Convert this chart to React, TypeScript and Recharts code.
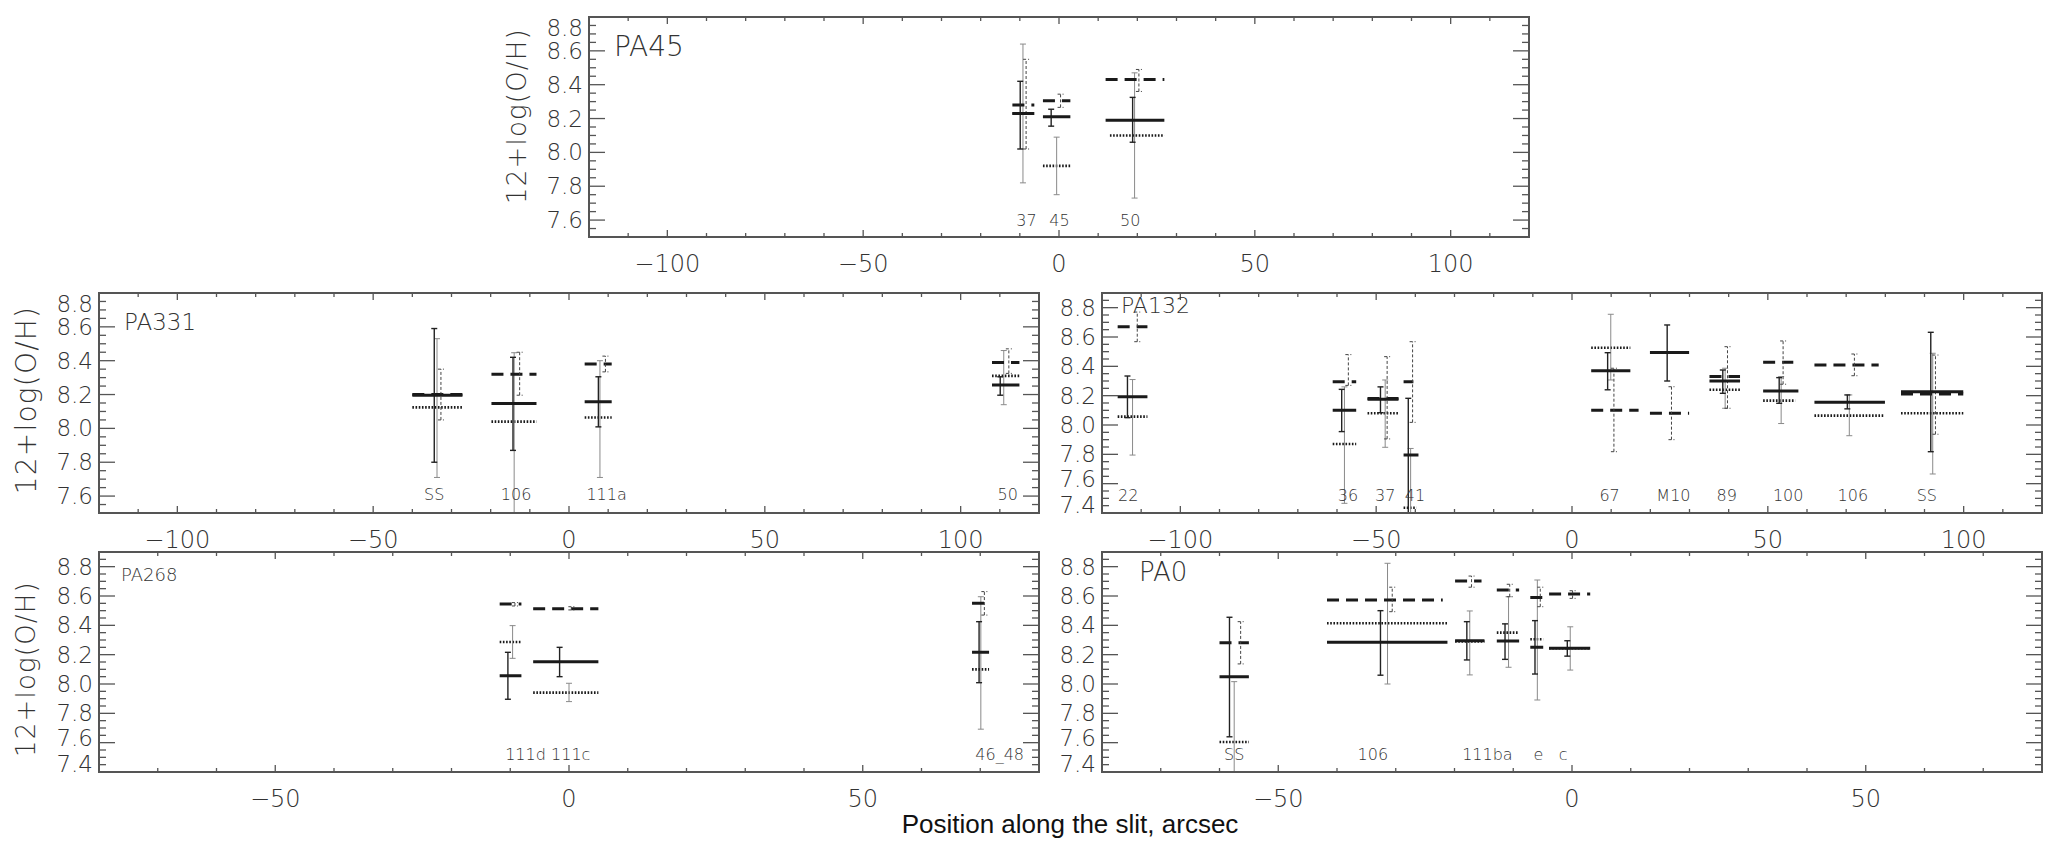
import { ComposedChart, ErrorBar, Line, Scatter, XAxis, YAxis } from "recharts";

type Est = { id: string; x0: number; x1: number; y: number; ex: number; lo: number; hi: number };
type Tag = { id: string; x: number };

// ---- PA45 ----
const pa45Solid: Est[] = [
  { id: "37", x0: -11.9, x1: -6.3, y: 8.23, ex: -9.9, lo: 8.02, hi: 8.42 },
  { id: "45", x0: -4.1, x1: 2.9, y: 8.21, ex: -2.0, lo: 8.155, hi: 8.255 },
  { id: "50", x0: 11.9, x1: 26.9, y: 8.19, ex: 18.8, lo: 8.06, hi: 8.325 },
];
const pa45Dashed: Est[] = [
  { id: "37", x0: -11.9, x1: -6.3, y: 8.28, ex: -8.4, lo: 8.02, hi: 8.55 },
  { id: "45", x0: -4.1, x1: 2.9, y: 8.305, ex: 0.4, lo: 8.266, hi: 8.344 },
  { id: "50", x0: 11.9, x1: 26.9, y: 8.43, ex: 20.4, lo: 8.36, hi: 8.49 },
];
const pa45Dotted: Est[] = [
  { id: "37", x0: -11.9, x1: -6.3, y: 8.23, ex: -9.2, lo: 7.82, hi: 8.64 },
  { id: "45", x0: -4.1, x1: 2.9, y: 7.92, ex: -0.6, lo: 7.75, hi: 8.09 },
  { id: "50", x0: 13, x1: 26.9, y: 8.1, ex: 19.3, lo: 7.73, hi: 8.47 },
];
const pa45Tags: Tag[] = [
  { id: "37", x: -8.3 },
  { id: "45", x: 0.1 },
  { id: "50", x: 18.2 },
];

// ---- PA331 ----
const pa331Solid: Est[] = [
  { id: "SS", x0: -40, x1: -27.2, y: 8.196, ex: -34.4, lo: 7.8, hi: 8.59 },
  { id: "106", x0: -19.8, x1: -8.3, y: 8.147, ex: -14.3, lo: 7.87, hi: 8.42 },
  { id: "111a", x0: 4.0, x1: 10.9, y: 8.157, ex: 7.5, lo: 8.009, hi: 8.305 },
  { id: "50", x0: 108, x1: 115, y: 8.256, ex: 110.1, lo: 8.196, hi: 8.305 },
];
const pa331Dashed: Est[] = [
  { id: "SS", x0: -40, x1: -27.2, y: 8.2, ex: -32.7, lo: 8.05, hi: 8.35 },
  { id: "106", x0: -19.8, x1: -8.3, y: 8.32, ex: -12.6, lo: 8.196, hi: 8.45 },
  { id: "111a", x0: 4.0, x1: 10.9, y: 8.38, ex: 9.3, lo: 8.334, hi: 8.427 },
  { id: "50", x0: 108, x1: 115, y: 8.39, ex: 112.3, lo: 8.325, hi: 8.47 },
];
const pa331Dotted: Est[] = [
  { id: "SS", x0: -40, x1: -27.2, y: 8.124, ex: -33.7, lo: 7.71, hi: 8.53 },
  { id: "106", x0: -19.8, x1: -8.3, y: 8.04, ex: -14.0, lo: 7.5, hi: 8.447 },
  { id: "111a", x0: 4.0, x1: 10.9, y: 8.064, ex: 7.9, lo: 7.71, hi: 8.4 },
  { id: "50", x0: 108, x1: 115, y: 8.31, ex: 111, lo: 8.14, hi: 8.46 },
];
const pa331Tags: Tag[] = [
  { id: "SS", x: -34.4 },
  { id: "106", x: -13.5 },
  { id: "111a", x: 9.6 },
  { id: "50", x: 112 },
];

// ---- PA132 ----
const pa132Solid: Est[] = [
  { id: "22", x0: -116, x1: -108.4, y: 8.193, ex: -113.5, lo: 8.05, hi: 8.334 },
  { id: "36", x0: -61.1, x1: -55.1, y: 8.1, ex: -58.8, lo: 7.955, hi: 8.243 },
  { id: "37", x0: -52.2, x1: -44.3, y: 8.175, ex: -48.9, lo: 8.084, hi: 8.26 },
  { id: "41", x0: -43, x1: -39.2, y: 7.796, ex: -41.8, lo: 7.4, hi: 8.182 },
  { id: "67", x0: 4.9, x1: 14.9, y: 8.37, ex: 9.1, lo: 8.24, hi: 8.493 },
  { id: "M10", x0: 19.9, x1: 29.9, y: 8.495, ex: 24.3, lo: 8.3, hi: 8.682 },
  { id: "89", x0: 35.1, x1: 42.9, y: 8.3, ex: 38.5, lo: 8.216, hi: 8.375 },
  { id: "100", x0: 48.8, x1: 57.8, y: 8.232, ex: 52.9, lo: 8.148, hi: 8.323 },
  { id: "106", x0: 61.9, x1: 79.9, y: 8.155, ex: 70.3, lo: 8.11, hi: 8.205 },
  { id: "SS", x0: 84, x1: 99.9, y: 8.227, ex: 91.6, lo: 7.818, hi: 8.632 },
];
const pa132Dashed: Est[] = [
  { id: "22", x0: -116, x1: -108.4, y: 8.67, ex: -111, lo: 8.568, hi: 8.77 },
  { id: "36", x0: -61.1, x1: -55.1, y: 8.295, ex: -57.1, lo: 8.27, hi: 8.48 },
  { id: "37", x0: -52.2, x1: -44.3, y: 8.18, ex: -47.2, lo: 7.905, hi: 8.466 },
  { id: "41", x0: -43, x1: -40.5, y: 8.295, ex: -40.7, lo: 8.018, hi: 8.568 },
  { id: "67", x0: 4.9, x1: 17, y: 8.1, ex: 10.7, lo: 7.818, hi: 8.387 },
  { id: "M10", x0: 19.9, x1: 29.9, y: 8.08, ex: 25.4, lo: 7.9, hi: 8.261 },
  { id: "89", x0: 35.1, x1: 42.9, y: 8.33, ex: 39.7, lo: 8.114, hi: 8.534 },
  { id: "100", x0: 48.8, x1: 56.5, y: 8.427, ex: 53.9, lo: 8.278, hi: 8.573 },
  { id: "106", x0: 61.9, x1: 78.3, y: 8.409, ex: 72.1, lo: 8.336, hi: 8.484 },
  { id: "SS", x0: 84, x1: 99.9, y: 8.211, ex: 92.8, lo: 7.937, hi: 8.477 },
];
const pa132Dotted: Est[] = [
  { id: "22", x0: -116, x1: -108.4, y: 8.057, ex: -112.2, lo: 7.795, hi: 8.31 },
  { id: "36", x0: -61.1, x1: -55.1, y: 7.87, ex: -58.1, lo: 7.466, hi: 8.26 },
  { id: "37", x0: -52.2, x1: -44.3, y: 8.08, ex: -47.7, lo: 7.848, hi: 8.307 },
  { id: "41", x0: -43, x1: -39.7, y: 7.436, ex: -41.2, lo: 7.4, hi: 7.84 },
  { id: "67", x0: 4.9, x1: 14.9, y: 8.527, ex: 9.9, lo: 8.307, hi: 8.755 },
  { id: "89", x0: 35.1, x1: 42.9, y: 8.24, ex: 39.1, lo: 8.114, hi: 8.387 },
  { id: "100", x0: 48.8, x1: 57, y: 8.166, ex: 53.4, lo: 8.01, hi: 8.33 },
  { id: "106", x0: 61.9, x1: 79.5, y: 8.064, ex: 70.8, lo: 7.927, hi: 8.205 },
  { id: "SS", x0: 84, x1: 99.9, y: 8.08, ex: 92.1, lo: 7.666, hi: 8.489 },
];
const pa132Tags: Tag[] = [
  { id: "22", x: -113.3 },
  { id: "36", x: -57.2 },
  { id: "37", x: -47.7 },
  { id: "41", x: -40.1 },
  { id: "67", x: 9.6 },
  { id: "M10", x: 25.9 },
  { id: "89", x: 39.5 },
  { id: "100", x: 55.2 },
  { id: "106", x: 71.7 },
  { id: "SS", x: 90.6 },
];

// ---- PA268 ----
const pa268Solid: Est[] = [
  { id: "111d", x0: -11.8, x1: -8.1, y: 8.057, ex: -10.4, lo: 7.896, hi: 8.216 },
  { id: "111c", x0: -6.1, x1: 5.0, y: 8.152, ex: -1.6, lo: 8.05, hi: 8.25 },
  { id: "46_48", x0: 68.6, x1: 71.5, y: 8.216, ex: 69.8, lo: 8.009, hi: 8.425 },
];
const pa268Dashed: Est[] = [
  { id: "111d", x0: -11.8, x1: -8.1, y: 8.546, ex: -9.2, lo: 8.532, hi: 8.555 },
  { id: "111c", x0: -6.1, x1: 5.0, y: 8.513, ex: 0.4, lo: 8.505, hi: 8.527 },
  { id: "46_48", x0: 68.6, x1: 71.5, y: 8.55, ex: 70.7, lo: 8.47, hi: 8.63 },
];
const pa268Dotted: Est[] = [
  { id: "111d", x0: -11.8, x1: -8.1, y: 8.286, ex: -9.6, lo: 8.175, hi: 8.398 },
  { id: "111c", x0: -6.1, x1: 5.0, y: 7.941, ex: 0, lo: 7.88, hi: 8.005 },
  { id: "46_48", x0: 68.6, x1: 71.5, y: 8.1, ex: 70.1, lo: 7.692, hi: 8.595 },
];
const pa268Tags: Tag[] = [
  { id: "111d", x: -7.4 },
  { id: "111c", x: 0.3 },
  { id: "46_48", x: 73.3 },
];

// ---- PA0 ----
const pa0Solid: Est[] = [
  { id: "SS", x0: -60, x1: -55, y: 8.05, ex: -58.3, lo: 7.64, hi: 8.455 },
  { id: "106", x0: -41.7, x1: -21.2, y: 8.284, ex: -32.6, lo: 8.06, hi: 8.5 },
  { id: "111b", x0: -19.9, x1: -14.9, y: 8.295, ex: -17.9, lo: 8.164, hi: 8.425 },
  { id: "111a", x0: -12.8, x1: -9.0, y: 8.293, ex: -11.4, lo: 8.168, hi: 8.41 },
  { id: "e", x0: -7.1, x1: -4.9, y: 8.25, ex: -6.3, lo: 8.068, hi: 8.432 },
  { id: "c", x0: -3.9, x1: 3.1, y: 8.244, ex: -0.8, lo: 8.19, hi: 8.295 },
];
const pa0Dashed: Est[] = [
  { id: "SS", x0: -60, x1: -55, y: 8.282, ex: -56.4, lo: 8.137, hi: 8.425 },
  { id: "106", x0: -41.7, x1: -22, y: 8.573, ex: -30.6, lo: 8.493, hi: 8.66 },
  { id: "111b", x0: -19.9, x1: -15.4, y: 8.702, ex: -17.1, lo: 8.66, hi: 8.736 },
  { id: "111a", x0: -12.8, x1: -9.0, y: 8.641, ex: -10.6, lo: 8.595, hi: 8.68 },
  { id: "e", x0: -7.1, x1: -4.9, y: 8.59, ex: -5.4, lo: 8.527, hi: 8.66 },
  { id: "c", x0: -3.9, x1: 3.1, y: 8.614, ex: 0.1, lo: 8.584, hi: 8.636 },
];
const pa0Dotted: Est[] = [
  { id: "SS", x0: -60, x1: -55, y: 7.605, ex: -57.5, lo: 7.4, hi: 8.016 },
  { id: "106", x0: -41.7, x1: -21.2, y: 8.414, ex: -31.4, lo: 8.0, hi: 8.823 },
  { id: "111b", x0: -19.9, x1: -14.9, y: 8.29, ex: -17.4, lo: 8.062, hi: 8.498 },
  { id: "111a", x0: -12.8, x1: -9.0, y: 8.35, ex: -10.8, lo: 8.114, hi: 8.595 },
  { id: "e", x0: -7.1, x1: -4.9, y: 8.305, ex: -5.9, lo: 7.891, hi: 8.709 },
  { id: "c", x0: -3.9, x1: 3.1, y: 8.244, ex: -0.3, lo: 8.095, hi: 8.39 },
];
const pa0Tags: Tag[] = [
  { id: "SS", x: -57.5 },
  { id: "106", x: -33.9 },
  { id: "111ba", x: -14.4 },
  { id: "e", x: -5.7 },
  { id: "c", x: -1.5 },
];

const xMajorWide = [-100, -50, 0, 50, 100];
const xMajorNarrow = [-50, 0, 50];
const yMajor = [7.4, 7.6, 7.8, 8.0, 8.2, 8.4, 8.6, 8.8];

const W = 940;
const H = 220;
const AXW = 76;
const AXH = 46;
const PAD = 4;
const FONT = "'DejaVu Sans', sans-serif";
const INK = "#333";
const TICK = "#555";
const LINE = "#1a1a1a";

type PanelCfg = {
  name: string;
  left: number;
  top: number;
  xDomain: [number, number];
  yDomain: [number, number];
  xMajor: number[];
  solid: Est[];
  dashed: Est[];
  dotted: Est[];
  tags: Tag[];
  tagY: number;
  nameDx: number;
  nameDy: number;
  nameSize: number;
};

const panels: PanelCfg[] = [
  { name: "PA45", left: 589, top: 17, xDomain: [-120, 120], yDomain: [7.5, 8.8], xMajor: xMajorWide, solid: pa45Solid, dashed: pa45Dashed, dotted: pa45Dotted, tags: pa45Tags, tagY: 7.6, nameDx: 25, nameDy: 29, nameSize: 28 },
  { name: "PA331", left: 99, top: 293, xDomain: [-120, 120], yDomain: [7.5, 8.8], xMajor: xMajorWide, solid: pa331Solid, dashed: pa331Dashed, dotted: pa331Dotted, tags: pa331Tags, tagY: 7.61, nameDx: 25, nameDy: 29, nameSize: 23 },
  { name: "PA132", left: 1102, top: 293, xDomain: [-120, 120], yDomain: [7.4, 8.9], xMajor: xMajorWide, solid: pa132Solid, dashed: pa132Dashed, dotted: pa132Dotted, tags: pa132Tags, tagY: 7.52, nameDx: 19, nameDy: 12, nameSize: 22 },
  { name: "PA268", left: 99, top: 552, xDomain: [-80, 80], yDomain: [7.4, 8.9], xMajor: xMajorNarrow, solid: pa268Solid, dashed: pa268Dashed, dotted: pa268Dotted, tags: pa268Tags, tagY: 7.52, nameDx: 22, nameDy: 22, nameSize: 18 },
  { name: "PA0", left: 1102, top: 552, xDomain: [-80, 80], yDomain: [7.4, 8.9], xMajor: xMajorNarrow, solid: pa0Solid, dashed: pa0Dashed, dotted: pa0Dotted, tags: pa0Tags, tagY: 7.52, nameDx: 37, nameDy: 20, nameSize: 26 },
];

const yTitles = [
  { x: 517, y: 116, size: 26 },
  { x: 26, y: 400, size: 28 },
  { x: 26, y: 669, size: 26 },
];

function steps(a: number, b: number, s: number) {
  const n = Math.round((b - a) / s);
  return Array.from({ length: n + 1 }, (_, i) => Math.round((a + i * s) * 100) / 100);
}

const segs = (list: Est[]) =>
  list.flatMap((e) => [
    { x: e.x0, y: e.y },
    { x: e.x1, y: e.y },
    { x: e.x1, y: null },
  ]);

const bars = (list: Est[]) => list.map((e) => ({ x: e.ex, y: e.y, err: [e.y - e.lo, e.hi - e.y] }));

const fmtX = (v: number) => (v < 0 ? "\u2212" + Math.abs(v) : String(v));

function xTick(t: any, majors: number[]) {
  const v = t.payload.value;
  const major = majors.includes(v);
  const len = major ? 7 : 4;
  return (
    <g>
      <line x1={t.x} y1={t.y} x2={t.x} y2={t.y - len} stroke={TICK} strokeWidth={1.3} />
      <line x1={t.x} y1={t.y - H} x2={t.x} y2={t.y - H + len} stroke={TICK} strokeWidth={1.3} />
      {major && (
        <text x={t.x} y={t.y + 27} textAnchor="middle" dominantBaseline="central" fontSize={24} fontFamily={FONT} fontWeight={300} fill={INK}>
          {fmtX(v)}
        </text>
      )}
    </g>
  );
}

function yTick(t: any) {
  const v = t.payload.value;
  const major = yMajor.some((m) => Math.abs(m - v) < 1e-6);
  const len = major ? 16 : 7;
  const fromBottom = PAD + H - t.y;
  let ly = Math.min(Math.max(t.y, PAD + 11), PAD + H - 8);
  if (fromBottom > 20 && fromBottom < 40) ly = t.y - 5;
  return (
    <g>
      <line x1={t.x} y1={t.y} x2={t.x + len} y2={t.y} stroke={TICK} strokeWidth={1.3} />
      <line x1={t.x + W} y1={t.y} x2={t.x + W - len} y2={t.y} stroke={TICK} strokeWidth={1.3} />
      {major && (
        <text x={t.x - 6} y={ly} textAnchor="end" dominantBaseline="central" fontSize={23} fontFamily={FONT} fontWeight={300} fill={INK}>
          {v.toFixed(1)}
        </text>
      )}
    </g>
  );
}

const blank = () => <g />;

function Panel({ p }: { p: PanelCfg }) {
  const xt = steps(p.xDomain[0], p.xDomain[1], 10);
  const yt = steps(p.yDomain[0], p.yDomain[1], 0.05);
  const tagData = p.tags.map((g) => ({ x: g.x, y: p.tagY, id: g.id }));
  return (
    <div style={{ position: "absolute", left: p.left - AXW, top: p.top - PAD }}>
      <ComposedChart width={AXW + W + PAD} height={PAD + H + AXH} margin={{ top: PAD, right: PAD, bottom: 0, left: 0 }}>
        <XAxis type="number" dataKey="x" domain={p.xDomain} allowDataOverflow ticks={xt} interval={0} axisLine={false} tickLine={false} tickSize={0} tickMargin={0} height={AXH} tick={(t: any) => xTick(t, p.xMajor)} />
        <YAxis type="number" dataKey="y" domain={p.yDomain} allowDataOverflow ticks={yt} interval={0} axisLine={false} tickLine={false} tickSize={0} tickMargin={0} width={AXW} tick={(t: any) => yTick(t)} />
        <Line data={segs(p.dotted)} dataKey="y" stroke={LINE} strokeWidth={2.6} strokeDasharray="1.6 1.6" dot={false} activeDot={false} connectNulls={false} isAnimationActive={false} />
        <Scatter data={bars(p.dotted)} shape={blank} isAnimationActive={false}>
          <ErrorBar dataKey="err" direction="y" width={3} stroke="#8a8a8a" strokeWidth={1} isAnimationActive={false} />
        </Scatter>
        <Line data={segs(p.dashed)} dataKey="y" stroke={LINE} strokeWidth={3} strokeDasharray="12 7" dot={false} activeDot={false} connectNulls={false} isAnimationActive={false} />
        <Scatter data={bars(p.dashed)} shape={blank} isAnimationActive={false}>
          <ErrorBar dataKey="err" direction="y" width={3} stroke="#444" strokeWidth={1} strokeDasharray="3 2" isAnimationActive={false} />
        </Scatter>
        <Scatter data={bars(p.solid)} shape={blank} isAnimationActive={false}>
          <ErrorBar dataKey="err" direction="y" width={3} stroke="#222" strokeWidth={1.4} isAnimationActive={false} />
        </Scatter>
        <Line data={segs(p.solid)} dataKey="y" stroke={LINE} strokeWidth={3} dot={false} activeDot={false} connectNulls={false} isAnimationActive={false} />
        <Scatter
          data={tagData}
          isAnimationActive={false}
          shape={(s: any) => (
            <text x={s.cx} y={s.cy} textAnchor="middle" dominantBaseline="central" fontSize={16} fontFamily={FONT} fontWeight={300} fill={INK}>
              {s.payload?.id ?? s.id}
            </text>
          )}
        />
      </ComposedChart>
    </div>
  );
}

export default function App() {
  return (
    <div style={{ position: "absolute", left: 0, top: 0, width: 2063, height: 842, background: "#fff" }}>
      {panels.map((p) => (
        <Panel key={p.name} p={p} />
      ))}
      <svg width={2063} height={842} style={{ position: "absolute", left: 0, top: 0, pointerEvents: "none" }}>
        {panels.map((p) => (
          <rect key={"f" + p.name} x={p.left} y={p.top} width={W} height={H} fill="none" stroke="#555" strokeWidth={2} />
        ))}
        {panels.map((p) => (
          <text key={"n" + p.name} x={p.left + p.nameDx} y={p.top + p.nameDy} dominantBaseline="central" fontSize={p.nameSize} fontFamily={FONT} fontWeight={300} fill={INK}>
            {p.name}
          </text>
        ))}
        {yTitles.map((t, i) => (
          <text key={"y" + i} x={t.x} y={t.y} transform={`rotate(-90 ${t.x} ${t.y})`} textAnchor="middle" dominantBaseline="central" fontSize={t.size} letterSpacing={1.2} fontFamily={FONT} fontWeight={300} fill={INK}>
            12+log(O/H)
          </text>
        ))}
        <text x={1070} y={824} textAnchor="middle" dominantBaseline="central" fontSize={26} fontFamily="'Liberation Sans', Arial, sans-serif" fill="#111">
          Position along the slit, arcsec
        </text>
      </svg>
    </div>
  );
}
